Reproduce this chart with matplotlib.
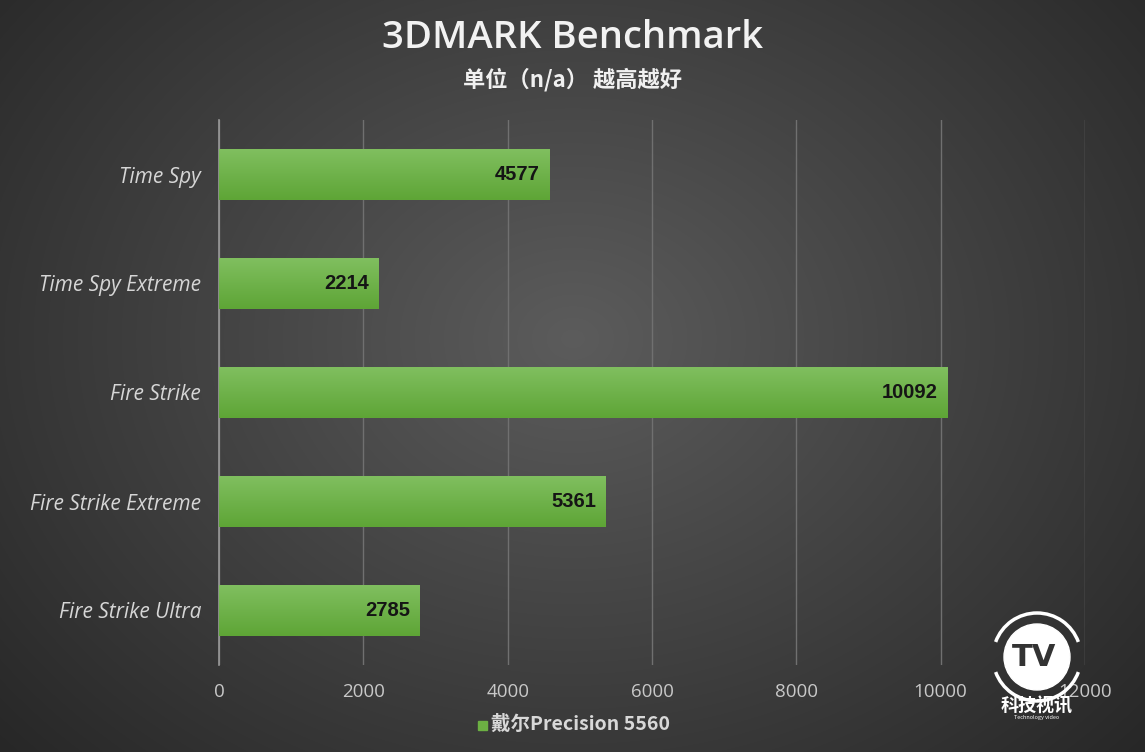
import numpy as np
import matplotlib.pyplot as plt
from matplotlib.patches import Circle, Arc

plt.rcParams['font.family'] = ['Noto Sans CJK SC', 'DejaVu Sans']

# data
categories = ['Time Spy', 'Time Spy Extreme', 'Fire Strike', 'Fire Strike Extreme', 'Fire Strike Ultra']
scores = [4577, 2214, 10092, 5361, 2785]
series_name = '戴尔Precision 5560'
xticks = [0, 2000, 4000, 6000, 8000, 10000, 12000]

W, H = 1145, 752
fig = plt.figure(figsize=(W / 100, H / 100), dpi=100)

# radial gradient background
bg = fig.add_axes([0, 0, 1, 1], zorder=-10)
yy, xx = np.mgrid[0:H, 0:W]
r = np.sqrt(((xx - W * 0.5) / (W * 0.62)) ** 2 + ((yy - H * 0.45) / (H * 0.75)) ** 2)
shade = 0.36 - 0.19 * np.clip(r, 0, 1.2)
bg.imshow(np.dstack([shade] * 3), aspect='auto', extent=[0, 1, 0, 1])
bg.axis('off')

ax = fig.add_axes([219 / W, 1 - 665 / H, (1085 - 219) / W, (665 - 120) / H])
ax.patch.set_alpha(0)
y = np.arange(len(categories))
bars = ax.barh(y, scores, height=0.46, color='#6cb043', zorder=3)
ax.set_xlim(0, 12000)
ax.set_ylim(len(categories) - 0.5, -0.5)

# vertical gradient on each bar
grad = np.linspace(0, 1, 64).reshape(-1, 1)
top = np.array([0x80, 0xbf, 0x5f]) / 255
bot = np.array([0x5e, 0xa5, 0x36]) / 255
gimg = top + (bot - top) * grad[..., None]
for b in bars:
    x0, y0 = b.get_x(), b.get_y()
    im = ax.imshow(gimg, aspect='auto', extent=[x0, x0 + b.get_width(), y0 + b.get_height(), y0],
                   zorder=4)
    im.set_clip_path(b)
    ax.text(b.get_width() - 140, y0 + b.get_height() / 2, f'{int(b.get_width())}',
            ha='right', va='center', fontsize=14.5, fontweight='bold', color='#151515',
            family='Liberation Sans', zorder=5)

ax.set_xticks(xticks)
ax.set_xticklabels([str(t) for t in xticks])
ax.set_yticks(y)
ax.set_yticklabels(categories)
for lab in ax.get_yticklabels():
    lab.set_fontstyle('italic')
    lab.set_family('Open Sans')
ax.tick_params(axis='y', length=0, pad=13, labelsize=15, labelcolor='#d6d6d6')
ax.tick_params(axis='x', length=0, pad=13, labelsize=13.5, labelcolor='#c8c8c8')
for lab in ax.get_xticklabels():
    lab.set_family('Open Sans')
ax.xaxis.grid(True, color='#707070', linewidth=1, zorder=0)
ax.set_axisbelow(True)
for s in ['top', 'right', 'bottom']:
    ax.spines[s].set_visible(False)
ax.spines['left'].set_color('#9a9a9a')
ax.spines['left'].set_linewidth(1.2)

# titles
fig.text(0.5, 1 - 38 / H, '3DMARK Benchmark', ha='center', va='center', fontsize=27.5,
         fontweight='semibold', color='#f2f2f2', family=['Open Sans', 'Noto Sans CJK SC'])
fig.text(0.5, 1 - 80 / H, '单位（n/a） 越高越好', ha='center', va='center', fontsize=16,
         fontweight='bold', color='#f0f0f0')

# legend
fig.patches.append(plt.Rectangle((478 / W, 1 - 730 / H), 9 / W, 9 / H, transform=fig.transFigure,
                                 color='#6cb043'))
fig.text(491 / W, 1 - 724 / H, series_name, ha='left', va='center', fontsize=14,
         fontweight='bold', color='#d8d8d8')

# logo watermark
lg = fig.add_axes([985 / W, 1 - 720 / H, 110 / W, 120 / H], zorder=10)
lg.set_xlim(0, 110)
lg.set_ylim(0, 120)
lg.set_aspect('equal')
lg.axis('off')
lg.add_patch(Circle((52, 63), 33, color='white'))
lg.add_patch(Arc((52, 63), 88, 88, theta1=20, theta2=160, color='white', lw=2.5))
lg.add_patch(Arc((52, 63), 88, 88, theta1=200, theta2=340, color='white', lw=2.5))
lg.text(49, 63, 'TV', ha='center', va='center', fontsize=22, fontweight='bold', color='#333333',
        family='DejaVu Sans')
lg.text(52, 14, '科技视讯', ha='center', va='center', fontsize=13, fontweight='bold', color='white')
lg.text(52, 3, 'Technology video', ha='center', va='center', fontsize=4, color='white')

fig.savefig('out.png', dpi=100)
